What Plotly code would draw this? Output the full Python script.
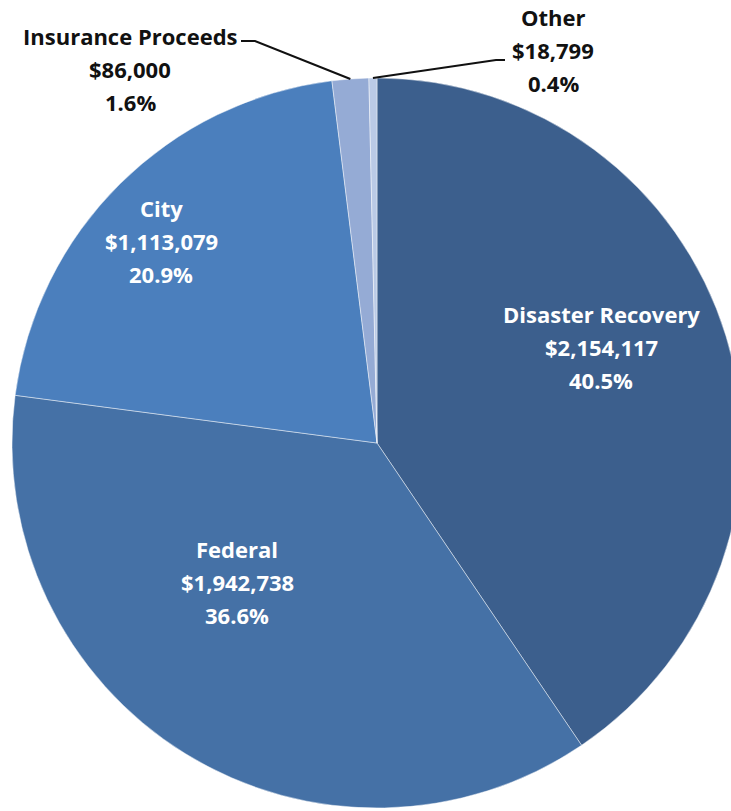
import math
import plotly.graph_objects as go

# Funding sources
sources = ["Disaster Recovery", "Federal", "City", "Insurance Proceeds", "Other"]
amounts = [2154117, 1942738, 1113079, 86000, 18799]
percents = ["40.5%", "36.6%", "20.9%", "1.6%", "0.4%"]
colors = ["#3C5F8D", "#4571A6", "#4B7FBD", "#95ABD5", "#BACAE6"]

# Label anchor points (pixels from the top-left corner), per source
label_x = [601, 237, 161, 130, 553]
label_y = [314, 549, 208, 36, 17]
label_color = ["white", "white", "white", "#111111", "#111111"]

W, H = 745, 811
CX, CY, R = 377, 443, 365
LINE_GAP = 32.8
FONT = "Open Sans"
FONT_SIZE = 22


def px(x, y):
    return x / W, 1 - y / H


fig = go.Figure(
    go.Pie(
        labels=sources,
        values=amounts,
        sort=False,
        direction="clockwise",
        rotation=0,
        textinfo="none",
        hoverinfo="label+value+percent",
        marker=dict(colors=colors, line=dict(color="rgba(255,255,255,0.45)", width=1)),
        domain=dict(x=[(CX - R) / W, (CX + R) / W], y=[(H - CY - R) / H, (H - CY + R) / H]),
        showlegend=False,
    )
)

annotations = []
for name, amt, pct, x0, y0, col in zip(sources, amounts, percents, label_x, label_y, label_color):
    for i, line in enumerate([name, f"${amt:,}", pct]):
        ax, ay = px(x0, y0 + i * LINE_GAP)
        annotations.append(
            dict(
                x=ax, y=ay, xref="paper", yref="paper",
                text=f"<b>{line}</b>", showarrow=False,
                xanchor="center", yanchor="middle",
                font=dict(family=FONT, size=FONT_SIZE, color=col),
            )
        )

# Leader lines for the two small slices, ending at each slice's mid-angle on the rim
total = sum(amounts)
cum = 0
mid_angles = []
for a in amounts:
    mid_angles.append((cum + a / 2) / total * 2 * math.pi)
    cum += a


def rim(angle):
    return CX + R * math.sin(angle), CY - R * math.cos(angle)


shapes = []
ix, iy = rim(mid_angles[3])
pts_ins = [(241, 41), (255, 41), (ix, iy)]
ox, oy = rim(mid_angles[4])
pts_oth = [(ox, oy), (496, 60), (505, 60)]
for pts in (pts_ins, pts_oth):
    path = "M " + " L ".join(f"{px(x, y)[0]},{px(x, y)[1]}" for x, y in pts)
    shapes.append(dict(type="path", path=path, xref="paper", yref="paper",
                       line=dict(color="#111111", width=2)))

fig.update_layout(
    width=W, height=H,
    margin=dict(l=0, r=0, t=0, b=0),
    paper_bgcolor="white",
    plot_bgcolor="white",
    annotations=annotations,
    shapes=shapes,
)

fig.write_html(
    "out.html",
    post_script="document.documentElement.style.overflow='hidden';document.body.style.overflow='hidden';",
)
